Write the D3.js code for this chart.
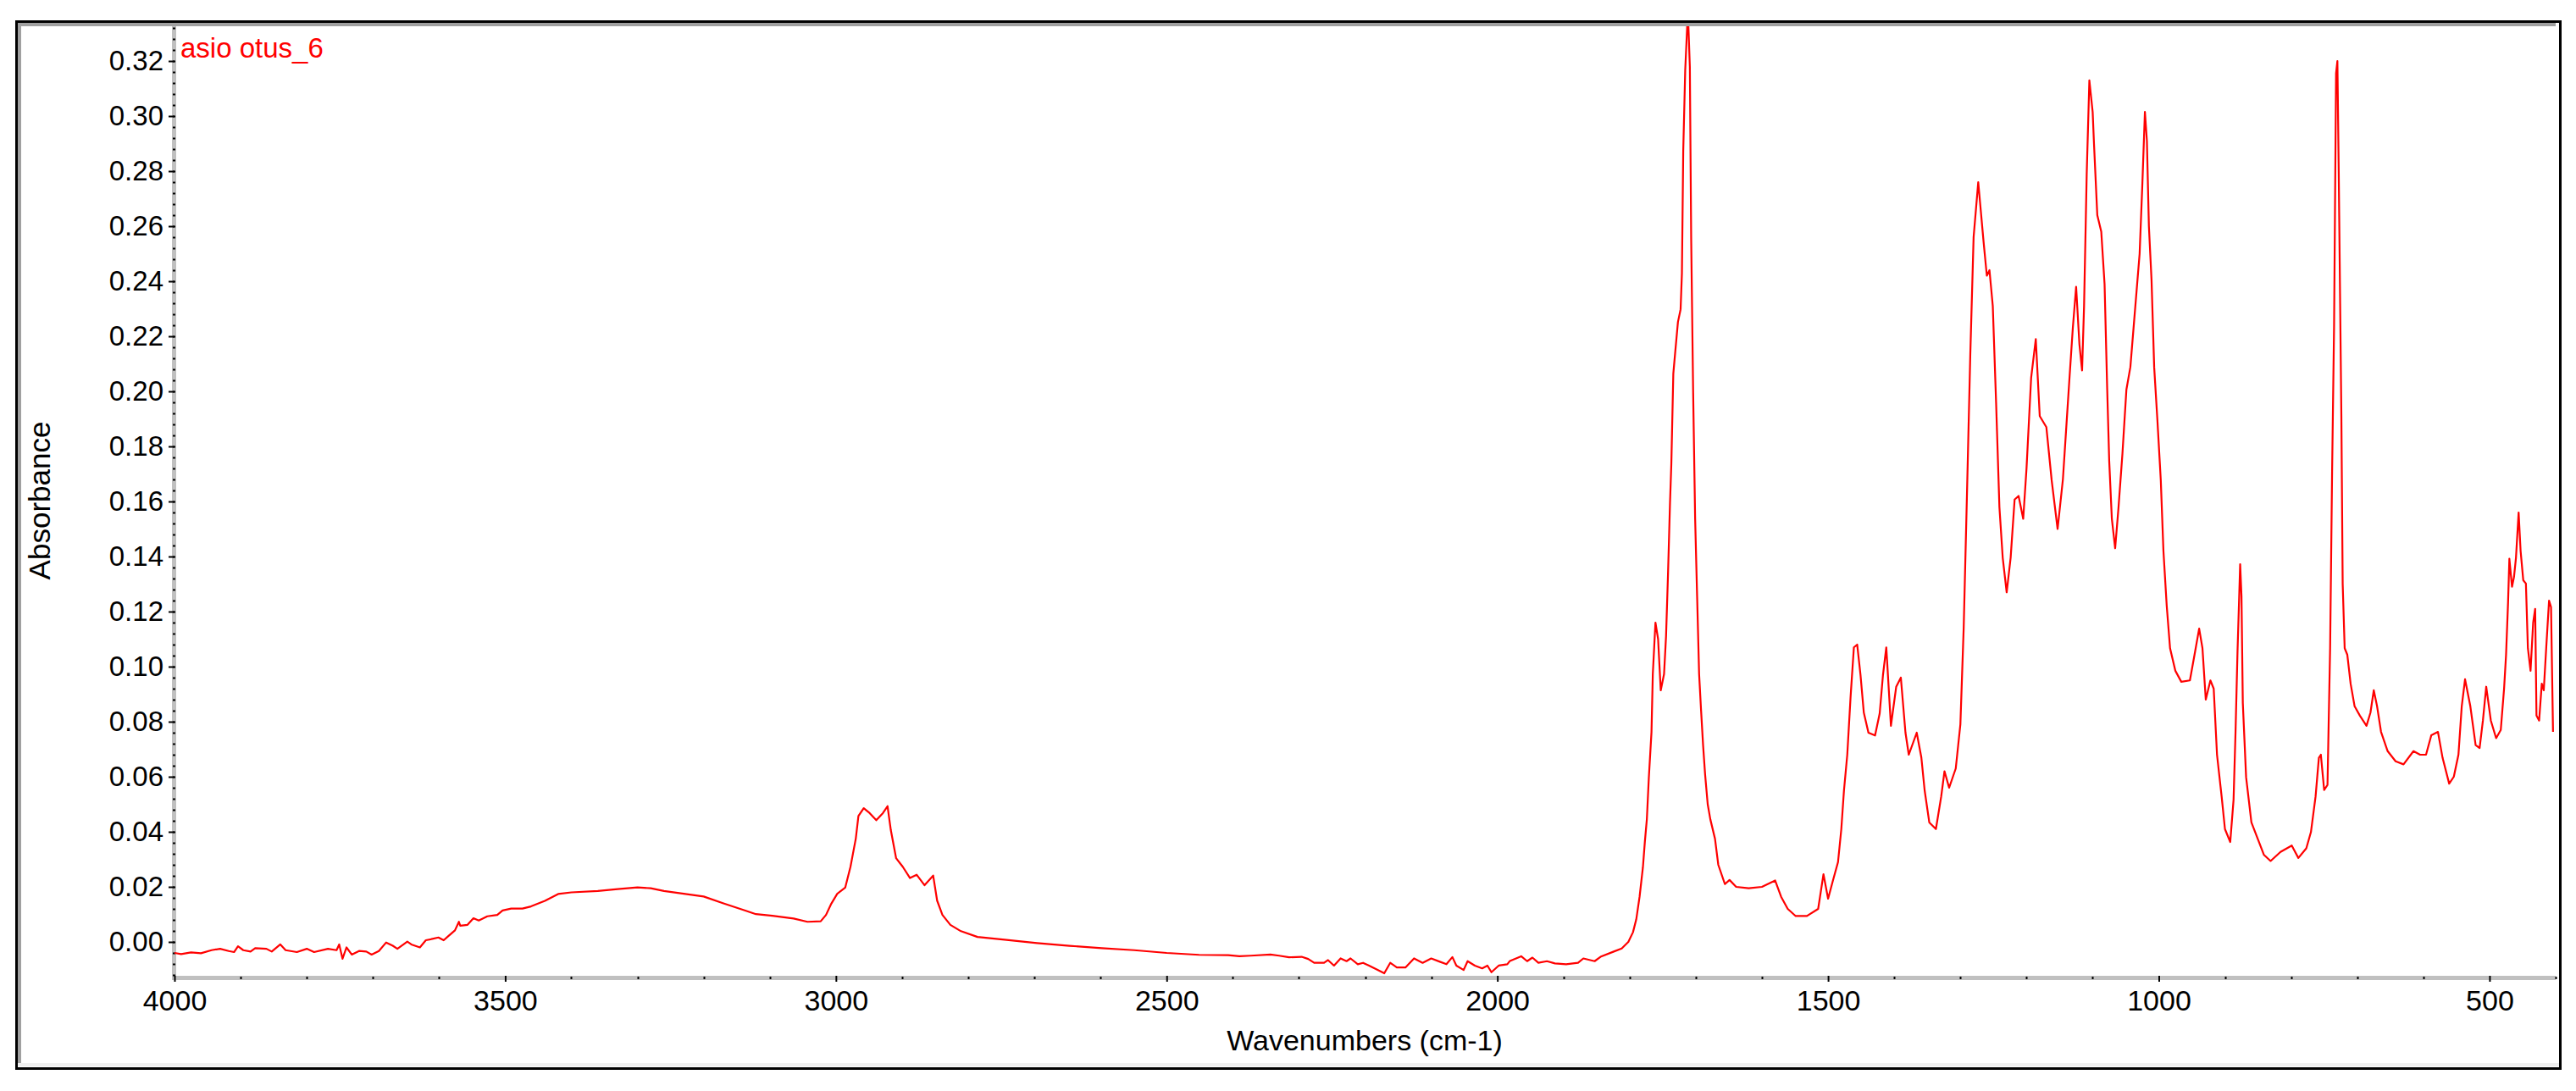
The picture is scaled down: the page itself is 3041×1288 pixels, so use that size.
<!DOCTYPE html>
<html>
<head>
<meta charset="utf-8">
<script src="https://cdn.jsdelivr.net/npm/d3@7"></script>
<style>
  body { margin: 0; background: #fff; }
  text { font-family: "Liberation Sans", Arial, sans-serif; }
</style>
</head>
<body>
<div id="my_dataviz"></div>
<script>
// spectrum (wavenumber in cm-1, absorbance)
const wavenumbers = [
  4000, 3990, 3975, 3960, 3944, 3931, 3918, 3910, 3904, 3896, 3885, 3878, 3861, 3853, 3840,
  3832, 3815, 3800, 3789, 3768, 3755, 3751, 3746, 3740, 3732, 3721, 3710, 3702, 3691, 3680,
  3670, 3663, 3648, 3642, 3629, 3620, 3610, 3601, 3593, 3586, 3576, 3570, 3568, 3557, 3548,
  3540, 3527, 3512, 3504, 3491, 3474, 3461,
  3440, 3420, 3400, 3360, 3330, 3300, 3280, 3260, 3230, 3200, 3170, 3137, 3121, 3096, 3064,
  3043, 3023, 3015, 3007, 2998, 2986, 2978, 2970, 2966, 2958, 2949, 2939, 2929, 2922, 2917,
  2909, 2899, 2888, 2878, 2866, 2853, 2847, 2839, 2827, 2811, 2786, 2745, 2696, 2647, 2598,
  2549, 2500, 2451,
  2407, 2390, 2373, 2343, 2330, 2315, 2296, 2286, 2277, 2262, 2256, 2247, 2237, 2228, 2222,
  2211, 2203, 2194, 2183, 2171, 2162, 2152, 2139, 2126, 2113, 2100, 2087, 2077, 2068, 2062,
  2051, 2045, 2034, 2023, 2015, 2009, 1998, 1985, 1981, 1964, 1955, 1947, 1938, 1925, 1913,
  1896, 1878, 1870, 1853, 1844,
  1824, 1812, 1802, 1795, 1790, 1785, 1780, 1777, 1774, 1771, 1767,
  1765, 1761, 1757, 1753, 1748, 1745, 1742, 1739, 1737, 1734, 1731, 1727, 1723, 1721, 1719,
  1716, 1712, 1709, 1707, 1704, 1701, 1698, 1695, 1692, 1689, 1686, 1682, 1678, 1671, 1666,
  1656, 1649, 1639, 1620, 1600, 1580, 1571, 1561, 1549, 1532, 1515, 1507, 1500, 1493, 1485,
  1480, 1476, 1471, 1466, 1461, 1456, 1451, 1446, 1439, 1429, 1422, 1417, 1412, 1405, 1397,
  1390, 1383, 1378, 1366, 1359, 1354, 1347, 1337, 1329, 1324, 1317, 1307, 1300, 1295, 1290,
  1285, 1280, 1273, 1265, 1260, 1256, 1251, 1246, 1241, 1236, 1230, 1224, 1218, 1212, 1205,
  1200, 1193, 1186, 1180, 1170, 1162, 1153, 1145, 1135, 1130, 1125, 1120, 1116, 1113, 1109,
  1105, 1100, 1098, 1093, 1087, 1082, 1078, 1075, 1071, 1066, 1061, 1055, 1049, 1043, 1037,
  1029, 1025, 1021, 1018, 1015, 1011, 1007, 1002, 997, 993, 988, 983, 975, 966, 953,
  946, 939, 934, 929, 922, 917, 912, 905, 900, 892, 887, 884, 881, 877, 875,
  873, 868, 860, 850, 841, 831, 816, 799, 789, 777, 770, 763, 758, 755, 750,
  745, 741, 738, 735, 732, 730, 728, 724, 722, 719, 715, 710, 704, 696, 686,
  680, 675, 670, 664, 654, 642, 630, 615, 605, 596, 588, 578, 571, 561, 554,
  547, 542, 537, 529, 521, 515, 510, 505, 498, 490, 483, 478, 475, 472, 470,
  466, 463, 460, 456, 453, 449, 445, 442, 438, 434, 431, 429, 425, 421, 418,
  414, 410, 407, 404
];
const absorbance = [
  -0.0040, -0.0044, -0.0038, -0.0041, -0.0030, -0.0025, -0.0033, -0.0037, -0.0016, -0.0030, -0.0035, -0.0023, -0.0025, -0.0035, -0.0009,
  -0.0030, -0.0037, -0.0025, -0.0037, -0.0025, -0.0030, -0.0009, -0.0061, -0.0020, -0.0046, -0.0033, -0.0035, -0.0046, -0.0033, -0.0002,
  -0.0014, -0.0025, 0.0001, -0.0009, -0.0020, 0.0006, 0.0011, 0.0016, 0.0006, 0.0021, 0.0042, 0.0073, 0.0059, 0.0062, 0.0086,
  0.0078, 0.0093, 0.0098, 0.0114, 0.0121, 0.0121, 0.0129,
  0.0149, 0.0174, 0.0180, 0.0185, 0.0192, 0.0198, 0.0195, 0.0185, 0.0175, 0.0165, 0.0140, 0.0114, 0.0101, 0.0095, 0.0085,
  0.0073, 0.0075, 0.0098, 0.0139, 0.0175, 0.0197, 0.0273, 0.0375, 0.0457, 0.0486, 0.0468, 0.0442, 0.0468, 0.0493, 0.0406,
  0.0304, 0.0273, 0.0232, 0.0244, 0.0206, 0.0241, 0.0150, 0.0098, 0.0062, 0.0039, 0.0018, 0.0008, -0.0004, -0.0014, -0.0023,
  -0.0030, -0.0040, -0.0047,
  -0.0048, -0.0052, -0.0050, -0.0046, -0.0050, -0.0056, -0.0054, -0.0062, -0.0076, -0.0076, -0.0066, -0.0086, -0.0060, -0.0070, -0.0060,
  -0.0081, -0.0076, -0.0086, -0.0099, -0.0114, -0.0076, -0.0093, -0.0093, -0.0060, -0.0076, -0.0060, -0.0072, -0.0081, -0.0055, -0.0086,
  -0.0102, -0.0070, -0.0086, -0.0096, -0.0086, -0.0110, -0.0086, -0.0081, -0.0069, -0.0052, -0.0070, -0.0057, -0.0076, -0.0070, -0.0078,
  -0.0081, -0.0076, -0.0060, -0.0070, -0.0054,
  -0.0035, -0.0024, 0.0000, 0.0035, 0.0082, 0.0164, 0.0270, 0.0364, 0.0446, 0.0597, 0.0762,
  0.0973, 0.1160, 0.1100, 0.0914, 0.0973, 0.1110, 0.1337, 0.1595, 0.1736, 0.2064, 0.2146, 0.2252, 0.2298, 0.2428, 0.2873,
  0.3167, 0.3380, 0.3179, 0.2557, 0.1994, 0.1537, 0.1255, 0.0973, 0.0840, 0.0715, 0.0610, 0.0500, 0.0445, 0.0375, 0.0280,
  0.0210, 0.0225, 0.0200, 0.0195, 0.0200, 0.0223, 0.0164, 0.0120, 0.0094, 0.0094, 0.0120, 0.0246, 0.0157, 0.0220, 0.0290,
  0.0410, 0.0550, 0.0680, 0.0890, 0.1070, 0.1080, 0.0970, 0.0833, 0.0760, 0.0750, 0.0830, 0.0970, 0.1070, 0.0785, 0.0927,
  0.0960, 0.0760, 0.0680, 0.0760, 0.0670, 0.0550, 0.0434, 0.0410, 0.0528, 0.0620, 0.0560, 0.0630, 0.0790, 0.1140, 0.1630,
  0.2135, 0.2560, 0.2760, 0.2545, 0.2420, 0.2440, 0.2310, 0.1960, 0.1580, 0.1396, 0.1270, 0.1396, 0.1607, 0.1620, 0.1537,
  0.1720, 0.2050, 0.2190, 0.1910, 0.1870, 0.1677, 0.1500, 0.1680, 0.2050, 0.2230, 0.2380, 0.2170, 0.2076, 0.2310, 0.2790,
  0.3130, 0.3015, 0.2900, 0.2640, 0.2580, 0.2390, 0.2006, 0.1748, 0.1537, 0.1430, 0.1576, 0.1773, 0.2006, 0.2088, 0.2265,
  0.2500, 0.2745, 0.3015, 0.2910, 0.2600, 0.2405, 0.2088, 0.1890, 0.1677, 0.1420, 0.1220, 0.1067, 0.0985, 0.0945, 0.0950,
  0.1043, 0.1138, 0.1067, 0.0880, 0.0950, 0.0920, 0.0680, 0.0528, 0.0410, 0.0363, 0.0516, 0.0763, 0.1055, 0.1372, 0.1255,
  0.0868, 0.0598, 0.0434, 0.0372, 0.0316, 0.0294, 0.0327, 0.0350, 0.0305, 0.0340, 0.0399, 0.0528, 0.0669, 0.0680, 0.0552,
  0.0570, 0.1067, 0.1710, 0.2240, 0.3156, 0.3200, 0.2800, 0.1910, 0.1300, 0.1067, 0.1043, 0.0938, 0.0856, 0.0822, 0.0785,
  0.0833, 0.0914, 0.0856, 0.0763, 0.0693, 0.0656, 0.0645, 0.0693, 0.0680, 0.0680, 0.0751, 0.0763, 0.0669, 0.0575, 0.0600,
  0.0680, 0.0856, 0.0954, 0.0856, 0.0715, 0.0704, 0.0804, 0.0927, 0.0804, 0.0740, 0.0770, 0.0920, 0.1043, 0.1232, 0.1392,
  0.1290, 0.1326, 0.1396, 0.1560, 0.1420, 0.1314, 0.1302, 0.1067, 0.0985, 0.1160, 0.1210, 0.0822, 0.0804, 0.0938, 0.0914,
  0.1080, 0.1240, 0.1216, 0.0763
];

const xMajorTicks = [4000, 3500, 3000, 2500, 2000, 1500, 1000, 500];
const yMajorTicks = [0.00, 0.02, 0.04, 0.06, 0.08, 0.10, 0.12, 0.14, 0.16, 0.18, 0.20, 0.22, 0.24, 0.26, 0.28, 0.30, 0.32];
const seriesName = "asio otus_6";

const W = 3041, H = 1288;
const plot = {left: 206, right: 3017, top: 31, bottom: 1152};

const svg = d3.select("#my_dataviz")
  .append("svg")
    .attr("width", W)
    .attr("height", H);

// window-like frame round the chart
svg.append("rect").attr("x", 21).attr("y", 27).attr("width", 2996).attr("height", 4).attr("fill", "#a0a0a0");
svg.append("rect").attr("x", 21).attr("y", 27).attr("width", 4).attr("height", 1228).attr("fill", "#a0a0a0");
svg.append("rect").attr("x", 21).attr("y", 1255).attr("width", 3000).attr("height", 4).attr("fill", "#efefef");
svg.append("rect")
  .attr("x", 19.5).attr("y", 25.5)
  .attr("width", 3003).attr("height", 1236)
  .attr("fill", "none").attr("stroke", "#000").attr("stroke-width", 3);

const x = d3.scaleLinear()
  .domain([4000, 400])
  .range([plot.left, plot.right]);

const y = d3.scaleLinear()
  .domain([-0.01231, 0.33262])
  .range([plot.bottom, plot.top]);

// gray axis bands
svg.append("rect").attr("x", 203).attr("y", plot.top).attr("width", 5).attr("height", plot.bottom - plot.top + 5).attr("fill", "#c0c0c0");
svg.append("rect").attr("x", 203).attr("y", plot.bottom).attr("width", plot.right - 203).attr("height", 5).attr("fill", "#c0c0c0");

// Y axis: major ticks with labels, minor ticks every 0.004
const yMinor = d3.range(-12, 333, 4).map(d => d / 1000);
svg.append("g").selectAll("line")
  .data(yMinor)
  .join("line")
    .attr("x1", 204).attr("x2", 207)
    .attr("y1", d => Math.round(y(d)) + 0.5).attr("y2", d => Math.round(y(d)) + 0.5)
    .attr("stroke", "#000").attr("stroke-width", 2);

const yAxis = svg.append("g")
  .attr("transform", "translate(206,0)")
  .call(d3.axisLeft(y).tickValues(yMajorTicks).tickFormat(d3.format(".2f")).tickSize(7).tickPadding(6));
yAxis.select(".domain").remove();
yAxis.selectAll(".tick line").attr("stroke", "#000").attr("stroke-width", 2);
yAxis.selectAll(".tick text")
  .attr("fill", "#000")
  .style("font-size", "33px")
  .style("font-family", "'Liberation Sans', Arial, sans-serif");

// X axis: major ticks every 500, minor every 100
const xMinor = d3.range(4000, 399, -100).filter(d => d % 500 !== 0);
svg.append("g").selectAll("line")
  .data(xMinor)
  .join("line")
    .attr("x1", d => Math.round(x(d)) + 0.5).attr("x2", d => Math.round(x(d)) + 0.5)
    .attr("y1", plot.bottom + 1).attr("y2", plot.bottom + 4)
    .attr("stroke", "#000").attr("stroke-width", 2);

const xAxis = svg.append("g")
  .attr("transform", `translate(0,${plot.bottom})`)
  .call(d3.axisBottom(x).tickValues(xMajorTicks).tickFormat(d3.format("d")).tickSize(7).tickPadding(10));
xAxis.select(".domain").remove();
xAxis.selectAll(".tick line").attr("stroke", "#000").attr("stroke-width", 2);
xAxis.selectAll(".tick text")
  .attr("fill", "#000")
  .style("font-size", "34px")
  .style("font-family", "'Liberation Sans', Arial, sans-serif");

// axis titles
svg.append("text")
  .attr("x", 1611).attr("y", 1240)
  .attr("text-anchor", "middle")
  .style("font-size", "34px")
  .text("Wavenumbers (cm-1)");

svg.append("text")
  .attr("transform", "translate(59,591) rotate(-90)")
  .attr("text-anchor", "middle")
  .style("font-size", "35px")
  .text("Absorbance");

// spectrum
svg.append("clipPath").attr("id", "clip")
  .append("rect")
    .attr("x", plot.left).attr("y", plot.top)
    .attr("width", plot.right - plot.left).attr("height", plot.bottom - plot.top);

const points = wavenumbers.map((w, i) => [w, absorbance[i]]);
svg.append("path")
  .datum(points)
  .attr("clip-path", "url(#clip)")
  .attr("fill", "none")
  .attr("stroke", "#ff0000")
  .attr("stroke-width", 2.2)
  .attr("stroke-linejoin", "round")
  .attr("d", d3.line().x(d => x(d[0])).y(d => y(d[1])));

svg.append("text")
  .attr("x", 213).attr("y", 68)
  .attr("fill", "#ff0000")
  .style("font-size", "33px")
  .text(seriesName);
</script>
</body>
</html>
